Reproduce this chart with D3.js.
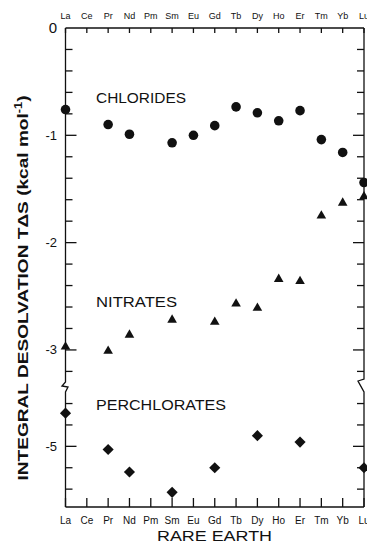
<!DOCTYPE html>
<html><head><meta charset="utf-8">
<script src="https://cdn.jsdelivr.net/npm/d3@7"></script>
<style>html,body{margin:0;padding:0;background:#fff;overflow:hidden}</style>
</head><body>
<script>
const elements = ["La","Ce","Pr","Nd","Pm","Sm","Eu","Gd","Tb","Dy","Ho","Er","Tm","Yb","Lu"];
const chlorideEls = ["La","Pr","Nd","Sm","Eu","Gd","Tb","Dy","Ho","Er","Tm","Yb","Lu"];
const chlorideVals = [-0.76,-0.90,-0.99,-1.07,-1.00,-0.91,-0.735,-0.79,-0.865,-0.77,-1.04,-1.16,-1.44];
const nitrateEls = ["La","Pr","Nd","Sm","Gd","Tb","Dy","Ho","Er","Tm","Yb","Lu"];
const nitrateVals = [-2.97,-3.01,-2.86,-2.72,-2.74,-2.57,-2.61,-2.34,-2.36,-1.75,-1.63,-1.57];
const perchlorateEls = ["La","Pr","Nd","Sm","Gd","Dy","Er","Lu"];
const perchlorateVals = [-4.69,-5.03,-5.24,-5.43,-5.20,-4.90,-4.96,-5.20];
const upperTickLabels = ["0","-1","-2","-3"];
const lowerTickLabels = ["-5"];

const W = 367, H = 545;
const L = 65.5, R = 364, T = 28, B = 507, BRK = 387.5;
const font = "'Liberation Sans', Arial, sans-serif";

const svg = d3.select("body").append("svg").attr("width", W).attr("height", H);

const x = d3.scalePoint().domain(elements).range([L, R]);
const yU = d3.scaleLinear().domain([0, -3.35]).range([T, BRK]);
const yL = d3.scaleLinear().domain([-4.45, -5.567]).range([BRK, B]);

const ink = "#111";
const g = svg.append("g").attr("stroke", ink).attr("fill", "none").attr("stroke-width", 1.3);

g.append("line").attr("x1", L).attr("x2", R).attr("y1", T).attr("y2", T);
g.append("line").attr("x1", L).attr("x2", R).attr("y1", B).attr("y2", B);
g.append("path").attr("d", `M${L},${T}V382L62,386L68,387L${L},392V${B}`);
g.append("path").attr("d", `M${R},${T}V379L358,381L${R},392V${B}`);

elements.forEach(e => {
  g.append("line").attr("x1", x(e)).attr("x2", x(e)).attr("y1", T).attr("y2", T + 5);
  g.append("line").attr("x1", x(e)).attr("x2", x(e)).attr("y1", B).attr("y2", B - 9);
});

const upperTicks = d3.range(0, 17).map(i => -i * 0.2);
const lowerTicks = [-4.6, -4.8, -5.0, -5.2, -5.4];
function isMajor(v) { return Math.abs(v - Math.round(v)) < 1e-6; }
upperTicks.forEach(v => {
  const len = isMajor(v) ? 11 : 7;
  if (v !== 0) {
    g.append("line").attr("x1", L).attr("x2", L + len).attr("y1", yU(v)).attr("y2", yU(v));
    g.append("line").attr("x1", R).attr("x2", R - len).attr("y1", yU(v)).attr("y2", yU(v));
  }
});
lowerTicks.forEach(v => {
  const len = isMajor(v) ? 11 : 7;
  g.append("line").attr("x1", L).attr("x2", L + len).attr("y1", yL(v)).attr("y2", yL(v));
  g.append("line").attr("x1", R).attr("x2", R - len).attr("y1", yL(v)).attr("y2", yL(v));
});

const t = svg.append("g").attr("fill", ink).attr("font-family", font);
upperTickLabels.forEach(s => {
  t.append("text").attr("x", 57).attr("y", yU(+s)).attr("dy", "0.35em")
    .attr("text-anchor", "end").attr("font-size", s === "0" ? 15 : 13).text(s);
});
lowerTickLabels.forEach(s => {
  t.append("text").attr("x", 57).attr("y", yL(+s)).attr("dy", "0.35em")
    .attr("text-anchor", "end").attr("font-size", 13).text(s);
});
elements.forEach(e => {
  t.append("text").attr("x", x(e)).attr("y", 19).attr("text-anchor", "middle").attr("font-size", 9).text(e);
  t.append("text").attr("x", x(e)).attr("y", 524).attr("text-anchor", "middle").attr("font-size", 10).text(e);
});

t.append("text").attr("x", 214.5).attr("y", 541).attr("text-anchor", "middle")
  .attr("font-size", 15).attr("textLength", 115).attr("lengthAdjust", "spacingAndGlyphs").text("RARE EARTH");
const yt = t.append("text").attr("transform", "translate(28,288) rotate(-90)")
  .attr("text-anchor", "middle").attr("font-size", 15).attr("font-weight", "bold")
  .attr("textLength", 385).attr("lengthAdjust", "spacingAndGlyphs");
yt.append("tspan").text("INTEGRAL DESOLVATION TΔS (kcal mol");
yt.append("tspan").attr("dy", -6).attr("font-size", 10).text("-1");
yt.append("tspan").attr("dy", 6).text(")");

t.append("text").attr("x", 96).attr("y", 103).attr("font-size", 14)
  .attr("textLength", 90).attr("lengthAdjust", "spacingAndGlyphs").text("CHLORIDES");
t.append("text").attr("x", 96).attr("y", 307).attr("font-size", 14)
  .attr("textLength", 81).attr("lengthAdjust", "spacingAndGlyphs").text("NITRATES");
t.append("text").attr("x", 96).attr("y", 410).attr("font-size", 14)
  .attr("textLength", 130).attr("lengthAdjust", "spacingAndGlyphs").text("PERCHLORATES");

const m = svg.append("g").attr("fill", ink);
chlorideEls.forEach((e, i) => {
  m.append("path").attr("d", d3.symbol(d3.symbolCircle, 72)())
    .attr("transform", `translate(${x(e)},${yU(chlorideVals[i])})`);
});
nitrateEls.forEach((e, i) => {
  m.append("path").attr("d", d3.symbol(d3.symbolTriangle, 40)())
    .attr("transform", `translate(${x(e)},${yU(nitrateVals[i])})`);
});
perchlorateEls.forEach((e, i) => {
  m.append("path").attr("d", d3.symbol(d3.symbolSquare, 62)())
    .attr("transform", `translate(${x(e)},${yL(perchlorateVals[i])}) rotate(45)`);
});
</script>
</body></html>
